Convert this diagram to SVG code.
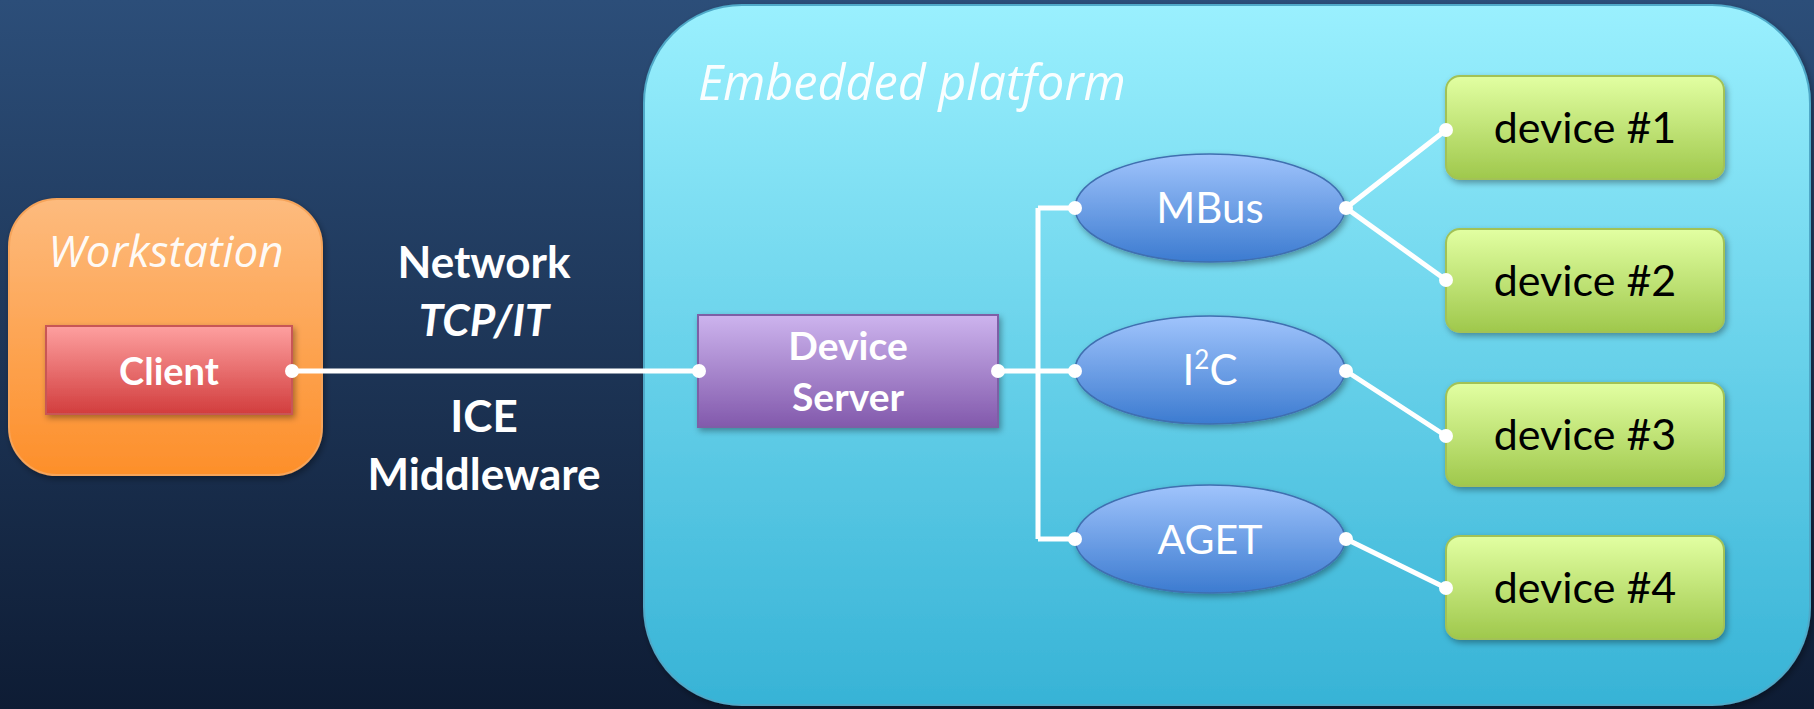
<svg xmlns="http://www.w3.org/2000/svg" width="1814" height="709" viewBox="0 0 1814 709">
<defs>
<linearGradient id="bg" x1="0" y1="0" x2="0" y2="1"><stop offset="0" stop-color="#2c4e79"/><stop offset="1" stop-color="#0e1c34"/></linearGradient>
<linearGradient id="gWs" x1="0" y1="0" x2="0" y2="1"><stop offset="0" stop-color="#fdbb7e"/><stop offset="1" stop-color="#fd8f2a"/></linearGradient>
<linearGradient id="gCl" x1="0" y1="0" x2="0" y2="1"><stop offset="0" stop-color="#fea0a0"/><stop offset="1" stop-color="#d23d3d"/></linearGradient>
<linearGradient id="gDs" x1="0" y1="0" x2="0" y2="1"><stop offset="0" stop-color="#cdb4ee"/><stop offset="1" stop-color="#8259ac"/></linearGradient>
<linearGradient id="gEm" x1="0" y1="0" x2="0" y2="1"><stop offset="0" stop-color="#9af0fe"/><stop offset="1" stop-color="#37b3d6"/></linearGradient>
<linearGradient id="gEl" x1="0" y1="0" x2="0" y2="1"><stop offset="0" stop-color="#a0c4fc"/><stop offset="1" stop-color="#3c7bd0"/></linearGradient>
<linearGradient id="gDv" x1="0" y1="0" x2="0" y2="1"><stop offset="0" stop-color="#e2ffa2"/><stop offset="1" stop-color="#9fc84c"/></linearGradient>
<filter id="sh" x="-10%" y="-10%" width="130%" height="130%"><feDropShadow dx="2" dy="3" stdDeviation="3" flood-color="#000" flood-opacity="0.35"/></filter>
</defs>
<style>
.t{font-family:Lato,"Open Sans",sans-serif;fill:#fff}
.o{font-family:"Open Sans",Lato,sans-serif;font-style:italic;fill:#fff}
.b{font-weight:bold}
.i{font-style:italic}
.dv{font-family:Lato,"Open Sans",sans-serif;fill:#000;font-size:43px}
.ln{stroke:#fff;stroke-width:5;fill:none}
.dot{fill:#fff}
.el{fill:url(#gEl);stroke:#3f6fb0;stroke-width:1.5;filter:url(#sh)}
.dev{fill:url(#gDv);stroke:#a2c256;stroke-width:2;filter:url(#sh)}
</style>
<rect width="1814" height="709" fill="url(#bg)"/>
<g id="workstation">
<rect x="9" y="199" width="313" height="276" rx="48" fill="url(#gWs)" stroke="#f6a45a" stroke-width="2" filter="url(#sh)"/>
<text class="o" x="166" y="267" font-size="44" text-anchor="middle" fill-opacity="0.95">Workstation</text>
</g>
<g id="client">
<rect x="46" y="326" width="246" height="88" fill="url(#gCl)" stroke="#c85656" stroke-width="2" filter="url(#sh)"/>
<text class="t b" x="169" y="385" font-size="38" text-anchor="middle">Client</text>
</g>
<g id="network-label">
<text class="t b" x="484" y="278" font-size="44" text-anchor="middle">Network</text>
<text class="t b i" x="484" y="336" font-size="44" text-anchor="middle">TCP/IT</text>
<text class="t b" x="484" y="432" font-size="44" text-anchor="middle">ICE</text>
<text class="t b" x="484" y="490" font-size="44" text-anchor="middle">Middleware</text>
</g>
<g id="embedded-platform">
<rect x="644" y="5" width="1166" height="700" rx="98" fill="url(#gEm)" stroke="#4fa9c8" stroke-width="2" filter="url(#sh)"/>
<text class="o" x="698" y="100" font-size="48.5" fill-opacity="0.95">Embedded platform</text>
</g>
<g id="device-server">
<rect x="698" y="315" width="300" height="112" fill="url(#gDs)" stroke="#7d5fa6" stroke-width="2" filter="url(#sh)"/>
<text class="t b" x="848" y="360" font-size="39" text-anchor="middle">Device</text>
<text class="t b" x="848" y="411" font-size="39" text-anchor="middle">Server</text>
</g>
<g id="mbus">
<ellipse class="el" cx="1210" cy="208" rx="135" ry="54"/>
<text class="t" x="1210" y="223" font-size="42" text-anchor="middle">MBus</text>
</g>
<g id="i2c">
<ellipse class="el" cx="1210" cy="370" rx="135" ry="54"/>
<text class="t" x="1210" y="385" font-size="42" text-anchor="middle">I<tspan font-size="26" dy="-16">2</tspan><tspan dy="16">C</tspan></text>
</g>
<g id="aget">
<ellipse class="el" cx="1210" cy="539" rx="135" ry="54"/>
<text class="t" x="1210" y="554" font-size="41" text-anchor="middle">AGET</text>
</g>
<g id="device1">
<rect class="dev" x="1446" y="76" width="278" height="103" rx="14"/>
<text class="dv" x="1585" y="143" text-anchor="middle">device #1</text>
</g>
<g id="device2">
<rect class="dev" x="1446" y="229" width="278" height="103" rx="14"/>
<text class="dv" x="1585" y="296" text-anchor="middle">device #2</text>
</g>
<g id="device3">
<rect class="dev" x="1446" y="383" width="278" height="103" rx="14"/>
<text class="dv" x="1585" y="450" text-anchor="middle">device #3</text>
</g>
<g id="device4">
<rect class="dev" x="1446" y="536" width="278" height="103" rx="14"/>
<text class="dv" x="1585" y="603" text-anchor="middle">device #4</text>
</g>
<g id="connectors">
<path class="ln" d="M292 371 H699"/>
<path class="ln" d="M998 371 H1075 M1038 208 V539 M1038 208 H1075 M1038 539 H1075"/>
<path class="ln" d="M1346 208 L1446 130 M1346 208 L1446 280 M1346 371 L1446 436 M1346 539 L1446 588"/>
<circle class="dot" cx="292" cy="371" r="7"/>
<circle class="dot" cx="699" cy="371" r="7"/>
<circle class="dot" cx="998" cy="371" r="7"/>
<circle class="dot" cx="1075" cy="208" r="7"/>
<circle class="dot" cx="1075" cy="371" r="7"/>
<circle class="dot" cx="1075" cy="539" r="7"/>
<circle class="dot" cx="1346" cy="208" r="7"/>
<circle class="dot" cx="1346" cy="371" r="7"/>
<circle class="dot" cx="1346" cy="539" r="7"/>
<circle class="dot" cx="1446" cy="130" r="7"/>
<circle class="dot" cx="1446" cy="280" r="7"/>
<circle class="dot" cx="1446" cy="436" r="7"/>
<circle class="dot" cx="1446" cy="588" r="7"/>
</g>
</svg>
